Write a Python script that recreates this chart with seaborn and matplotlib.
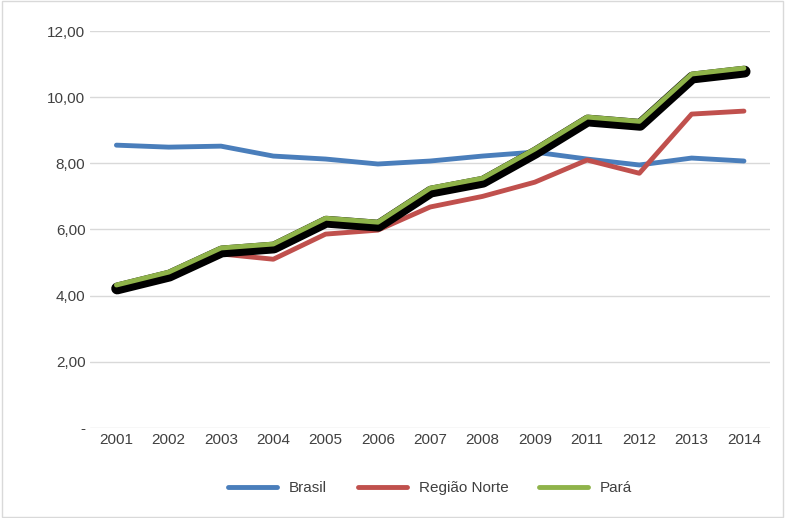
import matplotlib
matplotlib.use("Agg")
import matplotlib.pyplot as plt
import matplotlib.patheffects as pe
from matplotlib.lines import Line2D
import seaborn as sns
import pandas as pd

years = ["2001","2002","2003","2004","2005","2006","2007","2008","2009","2011","2012","2013","2014"]
brasil = [8.55,8.49,8.52,8.22,8.13,7.98,8.07,8.22,8.34,8.13,7.95,8.16,8.07]
norte = [4.29,4.56,5.26,5.10,5.86,5.98,6.68,7.00,7.43,8.10,7.70,9.49,9.58]
para = [4.32,4.71,5.44,5.56,6.34,6.22,7.25,7.55,8.43,9.40,9.27,10.70,10.88]
yticks = [0,2,4,6,8,10,12]
ylabels = ["-","2,00","4,00","6,00","8,00","10,00","12,00"]

df = pd.DataFrame({"Ano": years*3, "v": brasil+norte+para,
                   "s": ["Brasil"]*13+["Região Norte"]*13+["Pará"]*13})

sns.set_style("white")
plt.rcParams['font.family'] = ['Liberation Sans', 'DejaVu Sans']
fig = plt.figure(figsize=(7.85,5.18), dpi=100)
ax = fig.add_axes([0.115, 0.174, 0.866, 0.766])
pal = {"Brasil":"#4a7ebb","Região Norte":"#c0504d","Pará":"#8fb34a"}
sns.lineplot(data=df, x="Ano", y="v", hue="s", palette=pal, linewidth=3.5, ax=ax, sort=False, legend=False)
for l in ax.lines:
    if l.get_color() == pal["Pará"]:
        l.set_path_effects([pe.SimpleLineShadow(offset=(0.5,-2.5), shadow_color="black", alpha=1, linewidth=8.5), pe.Normal()])
ax.set_ylim(0,12)
ax.set_xlim(-0.5,12.5)
ax.set_yticks(yticks)
ax.set_yticklabels(ylabels)
ax.set_xlabel(""); ax.set_ylabel("")
ax.grid(axis="y", color="#d9d9d9", linewidth=1)
for s in ax.spines.values(): s.set_visible(False)
ax.tick_params(labelsize=11, colors="#404040", length=0)
handles = [Line2D([], [], color=pal[k], linewidth=3.5) for k in pal]
ax.legend(handles, list(pal), loc="upper center", bbox_to_anchor=(0.5,-0.1), ncol=3, frameon=False,
          fontsize=11, handlelength=3.2, labelcolor="#404040")
fig.patches.append(plt.Rectangle((0.002,0.002),0.996,0.996, transform=fig.transFigure,
                                 fill=False, edgecolor="#d9d9d9", linewidth=1))
fig.savefig("out.png", dpi=100)
